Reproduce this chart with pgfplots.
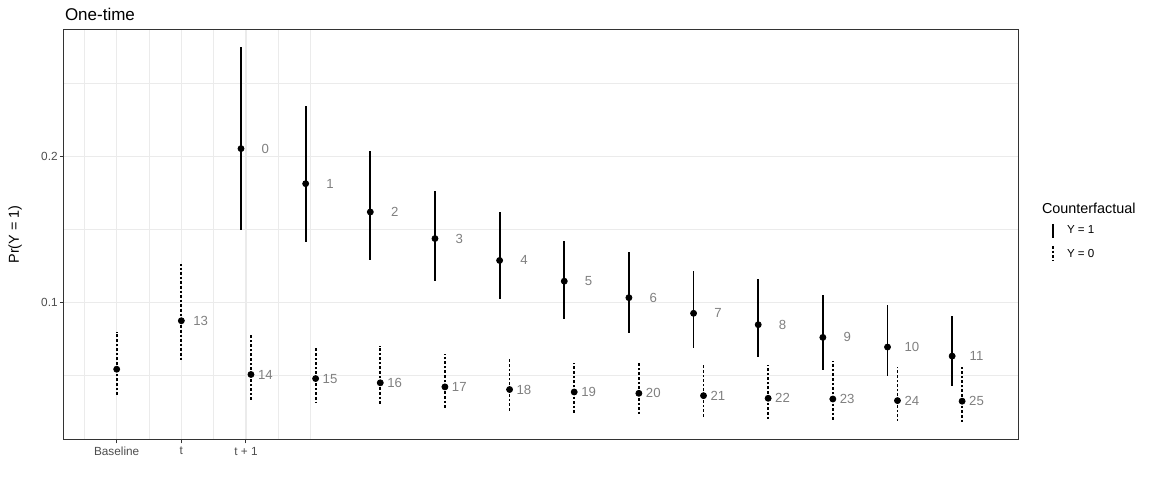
\documentclass[border=0pt]{standalone}
\usepackage{fontspec}
\setmainfont{Liberation Sans}
\usepackage{pgfplots}
\usepackage{pgfplotstable}
\pgfplotsset{compat=1.18}
\definecolor{grey92}{HTML}{EBEBEB}
\definecolor{grey20}{HTML}{333333}
\definecolor{grey30}{HTML}{4D4D4D}
\definecolor{labgray}{HTML}{808080}

% Counterfactual Y = 1 (solid)
\pgfplotstableread{
x y lo hi
1.923 0.2055 0.1500 0.2751
2.923 0.1815 0.1413 0.2344
3.923 0.1621 0.1290 0.2042
4.923 0.1439 0.1151 0.1765
5.923 0.1289 0.1025 0.1619
6.923 0.1147 0.0888 0.1424
7.923 0.1034 0.0794 0.1344
8.923 0.0927 0.0689 0.1216
9.923 0.0849 0.0625 0.1161
10.923 0.0762 0.0537 0.1051
11.923 0.0696 0.0496 0.0984
12.923 0.0634 0.0430 0.0909
}\solidtab

% Counterfactual Y = 0 (dotted)
\pgfplotstableread{
x y lo hi
0 0.0544 0.0363 0.0801
1 0.0876 0.0606 0.1266
2.077 0.0508 0.0331 0.0776
3.077 0.0480 0.0320 0.0687
4.077 0.0451 0.0294 0.0704
5.077 0.0423 0.0276 0.0645
6.077 0.0405 0.0254 0.0618
7.077 0.0388 0.0240 0.0590
8.077 0.0379 0.0223 0.0595
9.077 0.0363 0.0216 0.0579
10.077 0.0345 0.0202 0.0570
11.077 0.0340 0.0197 0.0599
12.077 0.0329 0.0186 0.0560
13.077 0.0325 0.0182 0.0556
}\dottedtab

% point labels
\pgfplotstableread{
lx y lab
2.3 0.2055 0
3.3 0.1815 1
4.3 0.1621 2
5.3 0.1439 3
6.3 0.1289 4
7.3 0.1147 5
8.3 0.1034 6
9.3 0.0927 7
10.3 0.0849 8
11.3 0.0762 9
12.3 0.0696 10
13.3 0.0634 11
1.3 0.0876 13
2.3 0.0508 14
3.3 0.0480 15
4.3 0.0451 16
5.3 0.0423 17
6.3 0.0405 18
7.3 0.0388 19
8.3 0.0379 20
9.3 0.0363 21
10.3 0.0345 22
11.3 0.0340 23
12.3 0.0329 24
13.3 0.0325 25
}\labtab

\begin{document}
\begin{tikzpicture}
\path[use as bounding box] (0,0) rectangle (576pt,240pt);
\begin{axis}[
  at={(32pt,20.35pt)}, anchor=south west,
  scale only axis, width=477.15pt, height=204.9pt,
  xmin=-0.815, xmax=13.946, ymin=0.0064, ymax=0.2871,
  xtick={0,1,2}, xticklabels={Baseline,t,t + 1},
  minor xtick={-0.5,0.5,1.5,2.5,3},
  ytick={0.1,0.2}, yticklabels={0.1,0.2},
  minor ytick={0.05,0.15,0.25},
  grid=both,
  major grid style={grey92, line width=0.6pt},
  minor grid style={grey92, line width=0.3pt},
  axis line style={grey20, line width=0.5pt},
  tick align=outside, tick pos=left,
  major tick length=2pt, minor tick length=0pt,
  tick style={grey20, line width=0.5pt},
  ticklabel style={font=\fontsize{5.9}{6.5}\selectfont, text=grey30, inner sep=1pt},
  xticklabel style={yshift=-0.6pt},
  /pgf/number format/assume math mode=true,
  ylabel={Pr(Y = 1)},
  ylabel style={at={(axis description cs:-0.0513,0.5)}, anchor=center, font=\fontsize{7.2}{8}\selectfont},
  clip=false,
]
\addplot[only marks, mark=*, mark size=1.5pt, mark options={fill=black, draw=black},
  error bars/.cd, y dir=both, y explicit, error mark=none,
  error bar style={line width=0.9pt, black}]
  table[x=x, y=y, y error plus expr=\thisrow{hi}-\thisrow{y}, y error minus expr=\thisrow{y}-\thisrow{lo}] {\solidtab};
\addplot[only marks, mark=*, mark size=1.5pt, mark options={fill=black, draw=black, solid},
  error bars/.cd, y dir=both, y explicit, error mark=none,
  error bar style={line width=0.9pt, black, dash pattern=on 1.3pt off 1pt}]
  table[x=x, y=y, y error plus expr=\thisrow{hi}-\thisrow{y}, y error minus expr=\thisrow{y}-\thisrow{lo}] {\dottedtab};
\addplot[draw=none, mark=none, nodes near coords, point meta=explicit symbolic,
  nodes near coords style={anchor=center, text=labgray, font=\fontsize{6.6}{7}\selectfont, inner sep=0pt}]
  table[x=lx, y=y, meta=lab] {\labtab};
\end{axis}
\node[anchor=base west, inner sep=0pt, font=\fontsize{8.5}{10}\selectfont] at (32.3pt,229.65pt) {One-time};
\node[anchor=base west, inner sep=0pt, font=\fontsize{7.2}{8}\selectfont] at (520.8pt,133pt) {Counterfactual};
\draw[line width=0.9pt] (526.4pt,128pt) -- (526.4pt,121pt);
\node[anchor=base west, inner sep=0pt, font=\fontsize{5.8}{6.5}\selectfont] at (533.3pt,123pt) {Y = 1};
\draw[line width=0.9pt, dash pattern=on 1.3pt off 1pt] (526.4pt,117pt) -- (526.4pt,109.5pt);
\node[anchor=base west, inner sep=0pt, font=\fontsize{5.8}{6.5}\selectfont] at (533.3pt,111.25pt) {Y = 0};
\end{tikzpicture}
\end{document}
